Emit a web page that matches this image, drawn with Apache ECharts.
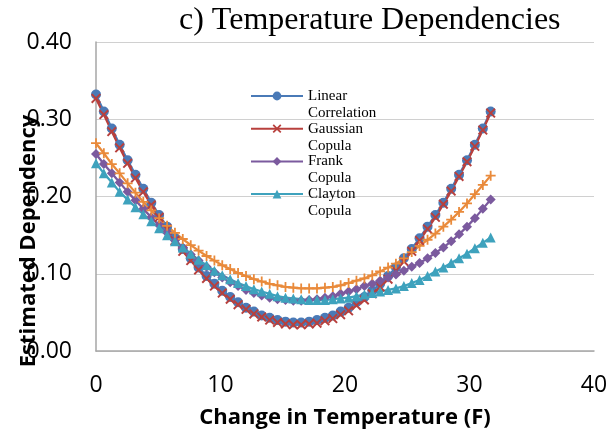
<!DOCTYPE html>
<html>
<head>
<meta charset="utf-8">
<script src="https://cdn.jsdelivr.net/npm/echarts@6/dist/echarts.min.js"></script>
<style>
  html, body { margin: 0; padding: 0; background: #ffffff; }
  #chart { width: 613px; height: 436px; }
</style>
</head>
<body>
<div id="chart"></div>
<script>
// Change in temperature (F) for each estimate
const temperature = [
  0.00, 0.63, 1.27, 1.90, 2.54, 3.17, 3.80, 4.44, 5.07, 5.71,
  6.34, 6.97, 7.61, 8.24, 8.88, 9.51, 10.14, 10.78, 11.41, 12.05,
  12.68, 13.31, 13.95, 14.58, 15.22, 15.85, 16.48, 17.12, 17.75, 18.39,
  19.02, 19.65, 20.29, 20.92, 21.56, 22.19, 22.82, 23.46, 24.09, 24.73,
  25.36, 25.99, 26.63, 27.26, 27.90, 28.53, 29.16, 29.80, 30.43, 31.07,
  31.70
];

const linearCorrelation = [
  0.332, 0.310, 0.288, 0.267, 0.247, 0.228, 0.210, 0.192, 0.176, 0.161,
  0.146, 0.132, 0.120, 0.108, 0.097, 0.087, 0.078, 0.070, 0.063, 0.056,
  0.051, 0.046, 0.043, 0.040, 0.038, 0.037, 0.037, 0.038, 0.040, 0.043,
  0.046, 0.051, 0.056, 0.063, 0.070, 0.078, 0.087, 0.097, 0.108, 0.120,
  0.132, 0.146, 0.161, 0.176, 0.192, 0.210, 0.228, 0.247, 0.267, 0.288,
  0.310
];

const gaussianCopula = [
  0.327, 0.306, 0.284, 0.263, 0.243, 0.224, 0.206, 0.189, 0.173, 0.158,
  0.143, 0.129, 0.117, 0.105, 0.094, 0.084, 0.075, 0.067, 0.060, 0.054,
  0.048, 0.044, 0.040, 0.037, 0.035, 0.034, 0.034, 0.035, 0.036, 0.039,
  0.042, 0.047, 0.052, 0.059, 0.066, 0.074, 0.083, 0.093, 0.104, 0.116,
  0.129, 0.143, 0.158, 0.173, 0.190, 0.207, 0.226, 0.245, 0.265, 0.286,
  0.308
];

const frankCopula = [
  0.255, 0.242, 0.230, 0.218, 0.206, 0.195, 0.184, 0.173, 0.163, 0.153,
  0.143, 0.134, 0.125, 0.117, 0.109, 0.102, 0.095, 0.089, 0.084, 0.079,
  0.075, 0.072, 0.069, 0.067, 0.066, 0.065, 0.065, 0.066, 0.067, 0.069,
  0.071, 0.074, 0.077, 0.080, 0.084, 0.087, 0.091, 0.095, 0.099, 0.104,
  0.109, 0.114, 0.120, 0.127, 0.134, 0.142, 0.151, 0.161, 0.172, 0.184,
  0.196
];

const claytonCopula = [
  0.243, 0.230, 0.218, 0.206, 0.196, 0.186, 0.177, 0.168, 0.159, 0.150,
  0.142, 0.134, 0.126, 0.118, 0.111, 0.104, 0.098, 0.093, 0.088, 0.084,
  0.080, 0.077, 0.074, 0.071, 0.069, 0.068, 0.067, 0.066, 0.066, 0.066,
  0.067, 0.068, 0.069, 0.071, 0.073, 0.075, 0.077, 0.079, 0.081, 0.084,
  0.088, 0.092, 0.097, 0.103, 0.108, 0.114, 0.120, 0.126, 0.133, 0.140,
  0.147
];

const fifthSeries = [
  0.269, 0.256, 0.242, 0.230, 0.217, 0.205, 0.193, 0.182, 0.172, 0.162,
  0.153, 0.145, 0.137, 0.130, 0.123, 0.117, 0.111, 0.106, 0.101, 0.097,
  0.093, 0.090, 0.087, 0.085, 0.083, 0.082, 0.081, 0.081, 0.081, 0.082,
  0.083, 0.085, 0.088, 0.091, 0.094, 0.098, 0.103, 0.108, 0.113, 0.120,
  0.128, 0.136, 0.144, 0.152, 0.161, 0.170, 0.180, 0.191, 0.203, 0.215,
  0.227
];

const xTicks = { min: 0, max: 40, interval: 10 };
const yTicks = { min: 0, max: 0.4, interval: 0.1 };

const SYMBOL_X = 'path://M0,1.4L1.4,0L5,3.6L8.6,0L10,1.4L6.4,5L10,8.6L8.6,10L5,6.4L1.4,10L0,8.6L3.6,5Z';
const SYMBOL_PLUS = 'path://M4.1,0H5.9V4.1H10V5.9H5.9V10H4.1V5.9H0V4.1H4.1Z';

const seriesDefs = [
  { name: 'Linear\nCorrelation', values: linearCorrelation, color: '#4A7AB7', symbol: 'circle', size: 10 },
  { name: 'Gaussian\nCopula', values: gaussianCopula, color: '#B8403D', symbol: SYMBOL_X, size: 10 },
  { name: 'Frank\nCopula', values: frankCopula, color: '#7B5A9E', symbol: 'diamond', size: 10 },
  { name: 'Clayton\nCopula', values: claytonCopula, color: '#3EA2BD', symbol: 'triangle', size: 10 },
  { name: 'Series5', values: fifthSeries, color: '#E98A3B', symbol: SYMBOL_PLUS, size: 10 }
];

const chart = echarts.init(document.getElementById('chart'), null, { renderer: 'canvas' });

// one legend per entry so the first text line sits level with its key
const legendTops = [70.5, 103.2, 135.9, 168.6];

const option = {
  animation: false,
  backgroundColor: '#ffffff',
  title: {
    text: 'c) Temperature Dependencies',
    left: 174,
    top: 0,
    textStyle: {
      fontFamily: '"Liberation Serif", "DejaVu Serif", serif',
      fontWeight: 'normal',
      fontSize: 32,
      color: '#000000'
    }
  },
  legend: seriesDefs.slice(0, 4).map((s, i) => ({
    data: [s.name],
    left: 250,
    top: legendTops[i],
    padding: 0,
    itemWidth: 52,
    itemHeight: 11,
    selectedMode: false,
    formatter: name => '\n' + name,
    textStyle: {
      fontFamily: '"Liberation Serif", "DejaVu Serif", serif',
      fontSize: 15,
      lineHeight: 17,
      color: '#000000'
    }
  })),
  grid: { left: 96, right: 19, top: 42, bottom: 85 },
  xAxis: {
    type: 'value',
    min: xTicks.min,
    max: xTicks.max,
    interval: xTicks.interval,
    name: 'Change in Temperature (F)',
    nameLocation: 'middle',
    nameGap: 56,
    nameTextStyle: {
      fontFamily: '"Open Sans", sans-serif',
      fontWeight: 'bold',
      fontSize: 22,
      color: '#000000'
    },
    axisLine: { show: true, lineStyle: { color: '#A6A6A6', width: 1.5 } },
    axisTick: { show: false },
    splitLine: { show: false },
    axisLabel: {
      margin: 23,
      fontFamily: '"Open Sans", sans-serif',
      fontSize: 23,
      color: '#000000'
    }
  },
  yAxis: {
    type: 'value',
    min: yTicks.min,
    max: yTicks.max,
    interval: yTicks.interval,
    axisLine: { show: true, lineStyle: { color: '#A6A6A6', width: 1.5 } },
    axisTick: { show: false },
    splitLine: { show: true, lineStyle: { color: '#D0D0D0', width: 1.2 } },
    axisLabel: {
      margin: 24,
      fontFamily: '"Open Sans", sans-serif',
      fontSize: 23,
      color: '#000000',
      formatter: v => v.toFixed(2)
    }
  },
  graphic: [{
    type: 'text',
    x: 29,
    y: 241,
    rotation: Math.PI / 2,
    z: 100,
    style: {
      text: 'Estimated Dependency',
      font: 'bold 22px "Open Sans", sans-serif',
      fill: '#000000',
      textAlign: 'center',
      textVerticalAlign: 'middle'
    }
  }],
  series: seriesDefs.map(s => ({
    name: s.name,
    type: 'line',
    data: temperature.map((t, i) => [t, s.values[i]]),
    symbol: s.symbol,
    symbolSize: s.size,
    showSymbol: true,
    lineStyle: { color: s.color, width: 2.25 },
    itemStyle: { color: s.color, borderWidth: 0 },
    emphasis: { disabled: true }
  }))
};

chart.setOption(option);
</script>
</body>
</html>
